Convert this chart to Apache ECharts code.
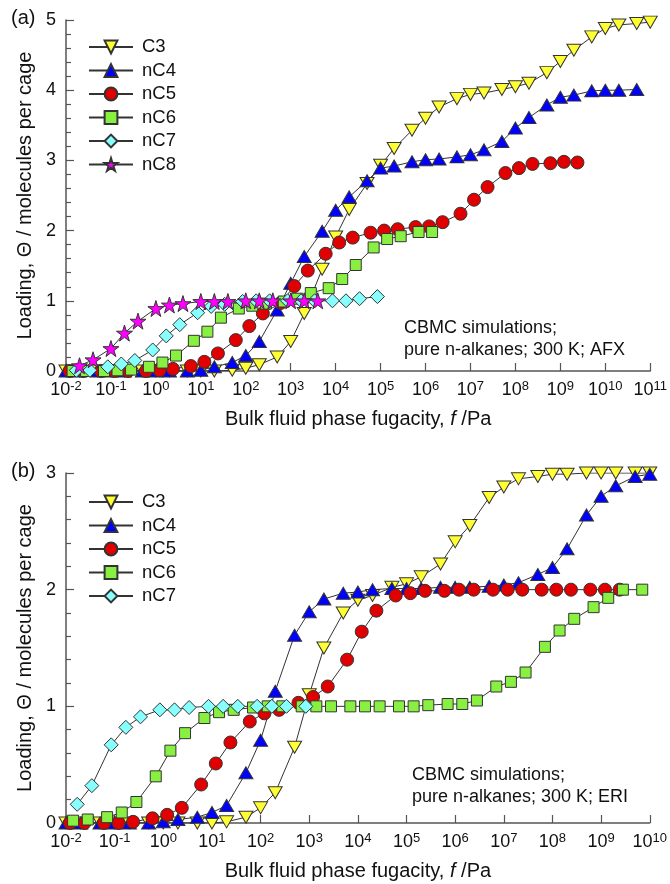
<!DOCTYPE html>
<html>
<head>
<meta charset="utf-8">
<title>n-alkane isotherms, AFX and ERI</title>
<script src="https://cdn.jsdelivr.net/npm/echarts@6/dist/echarts.min.js"></script>
<style>
  html, body { margin: 0; padding: 0; background: #fff; }
  #chart { width: 670px; height: 884px; }
</style>
</head>
<body>
<div id="chart"></div>
<script>
// [fugacity / Pa, loading / molecules per cage]

// (a) AFX
const afxC3 = [[0.01,0],[0.02,0],[0.05,0],[0.1,0],[0.2,0],[0.5,0],[1,0],[2,0],[5,0],[10,0],[20,0],
  [50,0.01],[100,0.04],[200,0.09],[500,0.2],[1e3,0.42],[2e3,0.82],[5e3,1.45],[1e4,1.91],[2e4,2.30],
  [5e4,2.67],[1e5,2.93],[2e5,3.17],[5e5,3.43],[1e6,3.60],[2e6,3.76],[5e6,3.88],[1e7,3.94],[2e7,3.96],
  [5e7,4.01],[1e8,4.05],[2e8,4.10],[5e8,4.25],[1e9,4.41],[2e9,4.57],[5e9,4.76],[1e10,4.88],[2e10,4.93],
  [5e10,4.95],[1e11,4.97]];
const afxC4 = [[0.01,0],[0.02,0],[0.05,0],[0.1,0],[0.2,0],[0.5,0],[1,0],[2,0],[5,0],[10,0.01],[20,0.06],
  [50,0.12],[100,0.22],[200,0.42],[500,0.87],[1e3,1.25],[2e3,1.63],[5e3,1.99],[1e4,2.29],[2e4,2.48],
  [5e4,2.71],[1e5,2.89],[2e5,2.92],[5e5,2.98],[1e6,3.01],[2e6,3.02],[5e6,3.05],[1e7,3.08],[2e7,3.15],
  [5e7,3.27],[1e8,3.46],[2e8,3.61],[5e8,3.79],[1e9,3.90],[2e9,3.93],[5e9,3.99],[1e10,4.0],[2e10,4.0],
  [5e10,4.01]];
const afxC5 = [[0.012,0],[0.024,0],[0.06,0],[0.12,0],[0.24,0],[0.6,0],[1.2,0.01],[2.4,0.03],[6,0.07],
  [12,0.13],[24,0.25],[60,0.44],[120,0.64],[240,0.82],[600,0.97],[1.2e3,1.21],[2.4e3,1.43],[6e3,1.67],
  [1.2e4,1.83],[2.4e4,1.90],[6e4,1.97],[1.2e5,2.0],[2.4e5,2.02],[6e5,2.05],[1.2e6,2.06],[2.4e6,2.12],
  [6e6,2.24],[1.2e7,2.44],[2.4e7,2.62],[6e7,2.82],[1.2e8,2.89],[2.4e8,2.95],[6e8,2.96],[1.2e9,2.98],
  [2.4e9,2.97]];
const afxC6 = [[0.014,0],[0.028,0],[0.07,0],[0.14,0.01],[0.28,0.02],[0.7,0.06],[1.4,0.12],[2.8,0.22],
  [7,0.43],[14,0.56],[28,0.76],[70,0.89],[140,0.93],[280,0.96],[700,0.99],[1.4e3,1.03],[2.8e3,1.11],
  [7e3,1.18],[1.4e4,1.31],[2.8e4,1.51],[7e4,1.76],[1.4e5,1.88],[2.8e5,1.92],[7e5,1.98],[1.4e6,1.98]];
const afxC7 = [[0.017,0.01],[0.034,0.01],[0.085,0.06],[0.17,0.10],[0.34,0.15],[0.85,0.30],[1.7,0.50],
  [3.4,0.66],[8.5,0.83],[17,0.92],[34,0.95],[85,0.99],[170,1.0],[340,1.0],[850,1.0],[1.7e3,1.0],
  [3.4e3,1.0],[8.5e3,1.0],[1.7e4,1.0],[3.4e4,1.03],[8.5e4,1.06]];
const afxC8 = [[0.02,0.075],[0.04,0.16],[0.1,0.32],[0.2,0.54],[0.4,0.71],[1,0.89],[2,0.94],[4,0.96],
  [10,0.99],[20,0.99],[40,0.99],[100,1.0],[200,1.0],[400,1.0],[1e3,1.0],[2e3,1.0],[4e3,1.0]];

// (b) ERI
const eriC3 = [[0.01,0],[0.02,0],[0.05,0],[0.1,0],[0.2,0],[0.5,0],[1,0],[2,0],[5,0],[10,0],[20,0.01],
  [50,0.05],[100,0.13],[200,0.26],[500,0.65],[1e3,1.10],[2e3,1.50],[5e3,1.80],[1e4,1.91],[2e4,1.95],
  [5e4,2.02],[1e5,2.05],[2e5,2.11],[5e5,2.22],[1e6,2.41],[2e6,2.55],[5e6,2.79],[1e7,2.88],[2e7,2.95],
  [5e7,2.97],[1e8,2.99],[2e8,2.99],[5e8,3.0],[1e9,3.0],[2e9,3.0],[5e9,3.0],[1e10,3.0]];
const eriC4 = [[0.01,0],[0.02,0],[0.05,0],[0.1,0],[0.2,0],[0.5,0],[1,0.01],[2,0.03],[5,0.05],[10,0.09],
  [20,0.15],[50,0.43],[100,0.71],[200,1.13],[500,1.61],[1e3,1.81],[2e3,1.92],[5e3,1.97],[1e4,1.98],
  [2e4,2.0],[5e4,2.01],[1e5,2.01],[2e5,2.01],[5e5,2.02],[1e6,2.02],[2e6,2.02],[5e6,2.03],[1e7,2.04],
  [2e7,2.06],[5e7,2.13],[1e8,2.19],[2e8,2.35],[5e8,2.64],[1e9,2.80],[2e9,2.89],[5e9,2.97],[1e10,2.99]];
const eriC5 = [[0.012,0],[0.024,0],[0.06,0],[0.12,0],[0.24,0.01],[0.6,0.04],[1.2,0.07],[2.4,0.13],
  [6,0.33],[12,0.51],[24,0.69],[60,0.87],[120,0.94],[240,0.97],[600,1.03],[1.2e3,1.08],[2.4e3,1.17],
  [6e3,1.40],[1.2e4,1.64],[2.4e4,1.82],[6e4,1.95],[1.2e5,1.97],[2.4e5,1.99],[6e5,1.99],[1.2e6,2.0],
  [2.4e6,2.0],[6e6,2.0],[1.2e7,2.0],[2.4e7,2.0],[6e7,2.0],[1.2e8,2.0],[2.4e8,2.0],[6e8,2.0],
  [1.2e9,2.0],[2.4e9,2.0]];
const eriC6 = [[0.014,0.02],[0.028,0.03],[0.07,0.05],[0.14,0.09],[0.28,0.18],[0.7,0.40],[1.4,0.62],
  [2.8,0.77],[7,0.90],[14,0.95],[28,0.97],[70,0.99],[140,1.0],[280,1.0],[700,1.0],[1.4e3,1.0],
  [2.8e3,1.0],[7e3,1.0],[1.4e4,1.0],[2.8e4,1.0],[7e4,1.0],[1.4e5,1.0],[2.8e5,1.01],[7e5,1.02],
  [1.4e6,1.02],[2.8e6,1.05],[7e6,1.17],[1.4e7,1.21],[2.8e7,1.29],[7e7,1.51],[1.4e8,1.65],[2.8e8,1.75],
  [7e8,1.85],[1.4e9,1.93],[2.8e9,2.0],[7e9,2.0]];
const eriC7 = [[0.017,0.16],[0.034,0.32],[0.085,0.67],[0.17,0.82],[0.34,0.91],[0.85,0.97],[1.7,0.97],
  [3.4,0.99],[8.5,1.0],[17,1.0],[34,1.0],[85,1.0],[170,1.0],[340,1.0],[850,1.0]];

const namesA = ['C3', 'nC4', 'nC5', 'nC6', 'nC7', 'nC8'];
const namesB = ['C3', 'nC4', 'nC5', 'nC6', 'nC7'];
const dataA = [afxC3, afxC4, afxC5, afxC6, afxC7, afxC8];
const dataB = [eriC3, eriC4, eriC5, eriC6, eriC7];

// marker look per component
const STAR = 'path://M50 0L61.17 34.63L97.55 34.55L68.07 55.87L79.39 90.45L50 69L20.61 90.45L31.93 55.87L2.45 34.55L38.83 34.63Z';
const markers = {
  C3:  { symbol: 'path://M0 0L10 0L5 8.7Z', size: [14, 12], color: '#ffff33' },
  nC4: { symbol: 'path://M5 0L10 8.7L0 8.7Z', size: [14, 12], color: '#0000ff' },
  nC5: { symbol: 'circle', size: 13, color: '#e00000' },
  nC6: { symbol: 'rect', size: 11, color: '#88f040' },
  nC7: { symbol: 'diamond', size: [14, 14], color: '#88ffff' },
  nC8: { symbol: STAR, size: 16, color: '#ff00ff' }
};

const FONT = '"Liberation Sans", Arial, sans-serif';
const AXIS_COLOR = '#555';

const chart = echarts.init(document.getElementById('chart'));

function makeSeries(name, data, idx) {
  const m = markers[name];
  return {
    name: name,
    type: 'line',
    xAxisIndex: idx,
    yAxisIndex: idx,
    data: data,
    symbol: m.symbol,
    symbolSize: m.size,
    showAllSymbol: true,
    itemStyle: { color: m.color, borderColor: '#333', borderWidth: 1 },
    lineStyle: { color: '#333', width: 1 },
    emphasis: { disabled: true },
    animation: false
  };
}

function xAxisFor(idx, max) {
  return {
    gridIndex: idx,
    type: 'log',
    logBase: 10,
    min: 0.01,
    max: max,
    interval: 1,
    splitNumber: 13,
    axisLine: { show: true, onZero: false, lineStyle: { color: AXIS_COLOR, width: 1.5 } },
    axisTick: { show: true, inside: true, length: 8, lineStyle: { color: AXIS_COLOR, width: 1.2 } },
    splitLine: { show: false },
    axisLabel: {
      margin: 9,
      formatter: function (v) {
        return '{b|10}{s|' + Math.round(Math.log10(v)) + '}';
      },
      rich: {
        b: { fontSize: 18, color: '#111', fontFamily: FONT, verticalAlign: 'bottom' },
        s: { fontSize: 13, color: '#111', fontFamily: FONT, verticalAlign: 'top', padding: [0, 0, 6, 0] }
      }
    },
    name: 'Bulk fluid phase fugacity, {i|f} /Pa',
    nameLocation: 'middle',
    nameGap: 38,
    nameTextStyle: {
      fontSize: 20, color: '#111', fontFamily: FONT,
      rich: { i: { fontSize: 20, fontStyle: 'italic', color: '#111', fontFamily: FONT } }
    }
  };
}

function yAxisFor(idx, max) {
  return {
    gridIndex: idx,
    type: 'value',
    min: 0,
    max: max,
    interval: 1,
    axisLine: { show: true, lineStyle: { color: AXIS_COLOR, width: 1.5 } },
    axisTick: { show: true, inside: true, length: 8, lineStyle: { color: AXIS_COLOR, width: 1.2 } },
    minorTick: { show: true, splitNumber: 5, length: 5, lineStyle: { color: AXIS_COLOR, width: 1.2 } },
    splitLine: { show: false },
    axisLabel: { fontSize: 18, color: '#111', fontFamily: FONT, margin: 10 },
    name: 'Loading, \u0398 / molecules per cage',
    nameLocation: 'middle',
    nameGap: 29,
    nameTextStyle: { fontSize: 20, color: '#111', fontFamily: FONT }
  };
}

function legendFor(names, top) {
  return {
    data: names,
    orient: 'vertical',
    left: 88,
    top: top,
    padding: 0,
    itemWidth: 44,
    itemHeight: 16,
    itemGap: 4.5,
    selectedMode: false,
    textStyle: { fontSize: 18.5, color: '#111', fontFamily: FONT, padding: [0, 0, 0, 4] }
  };
}

const series = [];
namesA.forEach(function (n, i) { series.push(makeSeries(n, dataA[i], 0)); });
namesB.forEach(function (n, i) { series.push(makeSeries(n, dataB[i], 1)); });

const option = {
  backgroundColor: '#fff',
  animation: false,
  textStyle: { fontFamily: FONT },
  grid: [
    { left: 66, top: 20, width: 586, height: 351 },
    { left: 66, top: 473, width: 586, height: 350 }
  ],
  xAxis: [xAxisFor(0, 1e11), xAxisFor(1, 1e10)],
  yAxis: [yAxisFor(0, 5), yAxisFor(1, 3)],
  legend: [legendFor(namesA, 37.5), legendFor(namesB, 492.5)],
  graphic: [
    { type: 'text', left: 11, top: 8, style: { text: '(a)', fontSize: 20, fill: '#111', fontFamily: FONT } },
    { type: 'text', left: 11, top: 461, style: { text: '(b)', fontSize: 20, fill: '#111', fontFamily: FONT } },
    { type: 'text', left: 404, top: 317, style: { text: 'CBMC simulations;\npure n-alkanes; 300 K; AFX', fontSize: 18, lineHeight: 22, fill: '#111', fontFamily: FONT } },
    { type: 'text', left: 412, top: 764, style: { text: 'CBMC simulations;\npure n-alkanes; 300 K; ERI', fontSize: 18, lineHeight: 22, fill: '#111', fontFamily: FONT } }
  ],
  series: series
};

chart.setOption(option);
window.addEventListener('resize', function () { chart.resize(); });
</script>
</body>
</html>
